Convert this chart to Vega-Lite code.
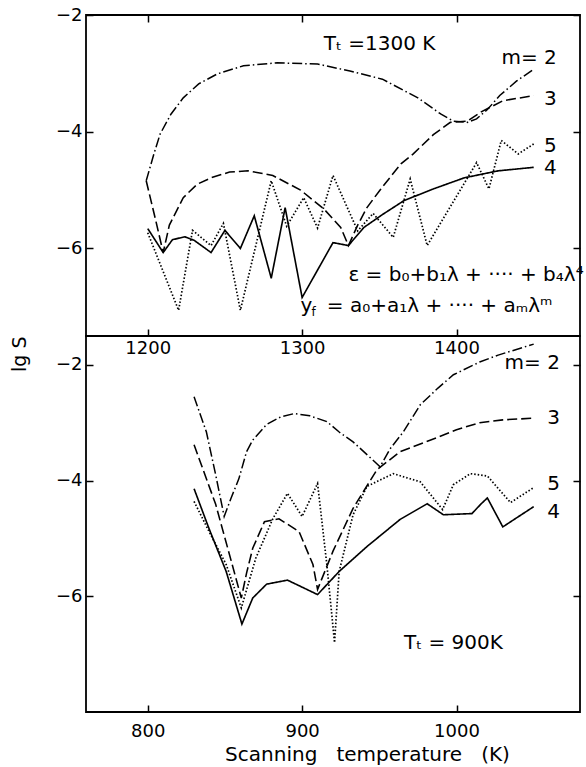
{
  "$schema": "https://vega.github.io/schema/vega-lite/v6.json",
  "padding": {"left": 9, "top": 5, "right": 4, "bottom": 4},
  "spacing": 0,
  "bounds": "flush",
  "config": {
    "font": "DejaVu Sans",
    "view": {"stroke": "black", "strokeWidth": 1.8},
    "axis": {"grid": false, "domain": false, "ticks": true, "tickSize": -7, "tickWidth": 1.5, "tickColor": "black",
             "labelFontSize": 18, "labelColor": "black", "labelFont": "DejaVu Sans", "labelPadding": 11,
             "titleFont": "DejaVu Sans", "titleFontWeight": "normal", "titleColor": "black", "titleFontSize": 20}
  },
  "datasets": {
    "top": [
      {"T": 1199, "lgS": -4.84, "m": "2"}, {"T": 1204, "lgS": -4.38, "m": "2"}, {"T": 1208, "lgS": -4.04, "m": "2"},
      {"T": 1215, "lgS": -3.7, "m": "2"}, {"T": 1223, "lgS": -3.42, "m": "2"}, {"T": 1233, "lgS": -3.18, "m": "2"},
      {"T": 1245, "lgS": -3.01, "m": "2"}, {"T": 1262, "lgS": -2.87, "m": "2"}, {"T": 1284, "lgS": -2.82, "m": "2"},
      {"T": 1310, "lgS": -2.84, "m": "2"}, {"T": 1331, "lgS": -2.96, "m": "2"}, {"T": 1352, "lgS": -3.1, "m": "2"},
      {"T": 1375, "lgS": -3.42, "m": "2"}, {"T": 1390, "lgS": -3.7, "m": "2"}, {"T": 1398, "lgS": -3.82, "m": "2"},
      {"T": 1407, "lgS": -3.84, "m": "2"}, {"T": 1413, "lgS": -3.78, "m": "2"}, {"T": 1420, "lgS": -3.62, "m": "2"},
      {"T": 1428, "lgS": -3.38, "m": "2"}, {"T": 1439, "lgS": -3.13, "m": "2"}, {"T": 1450, "lgS": -2.93, "m": "2"},

      {"T": 1199, "lgS": -4.84, "m": "3"}, {"T": 1205, "lgS": -5.5, "m": "3"}, {"T": 1210, "lgS": -6.07, "m": "3"},
      {"T": 1214, "lgS": -5.6, "m": "3"}, {"T": 1223, "lgS": -5.13, "m": "3"}, {"T": 1232, "lgS": -4.9, "m": "3"},
      {"T": 1241, "lgS": -4.79, "m": "3"}, {"T": 1253, "lgS": -4.69, "m": "3"}, {"T": 1265, "lgS": -4.67, "m": "3"},
      {"T": 1281, "lgS": -4.75, "m": "3"}, {"T": 1299, "lgS": -5.0, "m": "3"}, {"T": 1314, "lgS": -5.32, "m": "3"},
      {"T": 1325, "lgS": -5.64, "m": "3"}, {"T": 1330, "lgS": -5.95, "m": "3"}, {"T": 1336, "lgS": -5.6, "m": "3"},
      {"T": 1342, "lgS": -5.3, "m": "3"}, {"T": 1351, "lgS": -4.98, "m": "3"}, {"T": 1364, "lgS": -4.55, "m": "3"},
      {"T": 1372, "lgS": -4.38, "m": "3"}, {"T": 1385, "lgS": -4.05, "m": "3"}, {"T": 1396, "lgS": -3.84, "m": "3"},
      {"T": 1407, "lgS": -3.82, "m": "3"}, {"T": 1416, "lgS": -3.66, "m": "3"}, {"T": 1430, "lgS": -3.47, "m": "3"},
      {"T": 1450, "lgS": -3.38, "m": "3"},

      {"T": 1200, "lgS": -5.73, "m": "5"}, {"T": 1220, "lgS": -7.06, "m": "5"}, {"T": 1229, "lgS": -5.69, "m": "5"},
      {"T": 1241, "lgS": -5.95, "m": "5"}, {"T": 1249, "lgS": -5.57, "m": "5"}, {"T": 1260, "lgS": -7.06, "m": "5"},
      {"T": 1280, "lgS": -4.84, "m": "5"}, {"T": 1290, "lgS": -5.62, "m": "5"}, {"T": 1301, "lgS": -5.13, "m": "5"},
      {"T": 1310, "lgS": -5.65, "m": "5"}, {"T": 1320, "lgS": -4.75, "m": "5"}, {"T": 1336, "lgS": -5.7, "m": "5"},
      {"T": 1346, "lgS": -5.4, "m": "5"}, {"T": 1359, "lgS": -5.81, "m": "5"}, {"T": 1370, "lgS": -4.81, "m": "5"},
      {"T": 1381, "lgS": -5.95, "m": "5"}, {"T": 1413, "lgS": -4.53, "m": "5"}, {"T": 1421, "lgS": -4.98, "m": "5"},
      {"T": 1429, "lgS": -4.15, "m": "5"}, {"T": 1440, "lgS": -4.38, "m": "5"}, {"T": 1450, "lgS": -4.21, "m": "5"},

      {"T": 1200, "lgS": -5.66, "m": "4"}, {"T": 1210, "lgS": -6.07, "m": "4"}, {"T": 1216, "lgS": -5.85, "m": "4"},
      {"T": 1224, "lgS": -5.8, "m": "4"}, {"T": 1230, "lgS": -5.86, "m": "4"}, {"T": 1241, "lgS": -6.07, "m": "4"},
      {"T": 1250, "lgS": -5.69, "m": "4"}, {"T": 1260, "lgS": -6.0, "m": "4"}, {"T": 1269, "lgS": -5.44, "m": "4"},
      {"T": 1280, "lgS": -6.51, "m": "4"}, {"T": 1289, "lgS": -5.3, "m": "4"}, {"T": 1300, "lgS": -6.84, "m": "4"},
      {"T": 1320, "lgS": -5.9, "m": "4"}, {"T": 1330, "lgS": -5.95, "m": "4"}, {"T": 1340, "lgS": -5.64, "m": "4"},
      {"T": 1352, "lgS": -5.42, "m": "4"}, {"T": 1366, "lgS": -5.18, "m": "4"}, {"T": 1385, "lgS": -4.98, "m": "4"},
      {"T": 1405, "lgS": -4.79, "m": "4"}, {"T": 1427, "lgS": -4.67, "m": "4"}, {"T": 1450, "lgS": -4.61, "m": "4"}
    ],
    "bottom": [
      {"T": 830, "lgS": -2.55, "m": "2"}, {"T": 838, "lgS": -3.16, "m": "2"}, {"T": 844, "lgS": -3.9, "m": "2"},
      {"T": 849.5, "lgS": -4.62, "m": "2"}, {"T": 854, "lgS": -4.3, "m": "2"}, {"T": 859, "lgS": -3.97, "m": "2"},
      {"T": 864, "lgS": -3.5, "m": "2"}, {"T": 868, "lgS": -3.3, "m": "2"}, {"T": 877, "lgS": -3.03, "m": "2"},
      {"T": 886, "lgS": -2.9, "m": "2"}, {"T": 895, "lgS": -2.84, "m": "2"}, {"T": 905, "lgS": -2.88, "m": "2"},
      {"T": 916, "lgS": -2.98, "m": "2"}, {"T": 924, "lgS": -3.16, "m": "2"}, {"T": 933, "lgS": -3.33, "m": "2"},
      {"T": 942, "lgS": -3.55, "m": "2"}, {"T": 950.5, "lgS": -3.76, "m": "2"}, {"T": 957, "lgS": -3.45, "m": "2"},
      {"T": 965.5, "lgS": -3.16, "m": "2"}, {"T": 976.5, "lgS": -2.69, "m": "2"}, {"T": 988, "lgS": -2.4, "m": "2"},
      {"T": 998, "lgS": -2.17, "m": "2"}, {"T": 1015, "lgS": -1.95, "m": "2"}, {"T": 1027, "lgS": -1.83, "m": "2"},
      {"T": 1050, "lgS": -1.64, "m": "2"},

      {"T": 830, "lgS": -3.38, "m": "3"}, {"T": 844, "lgS": -4.41, "m": "3"}, {"T": 854.7, "lgS": -5.45, "m": "3"},
      {"T": 860.6, "lgS": -6.03, "m": "3"}, {"T": 864, "lgS": -5.6, "m": "3"}, {"T": 868, "lgS": -5.17, "m": "3"},
      {"T": 875.6, "lgS": -4.71, "m": "3"}, {"T": 885, "lgS": -4.66, "m": "3"}, {"T": 898, "lgS": -4.88, "m": "3"},
      {"T": 907, "lgS": -5.45, "m": "3"}, {"T": 910, "lgS": -5.88, "m": "3"}, {"T": 920, "lgS": -5.22, "m": "3"},
      {"T": 933, "lgS": -4.48, "m": "3"}, {"T": 948.5, "lgS": -3.81, "m": "3"}, {"T": 963.5, "lgS": -3.5, "m": "3"},
      {"T": 985, "lgS": -3.28, "m": "3"}, {"T": 1000, "lgS": -3.12, "m": "3"}, {"T": 1015, "lgS": -3.0, "m": "3"},
      {"T": 1030, "lgS": -2.95, "m": "3"}, {"T": 1050, "lgS": -2.92, "m": "3"},

      {"T": 830, "lgS": -4.36, "m": "5"}, {"T": 839.7, "lgS": -4.88, "m": "5"}, {"T": 850.8, "lgS": -5.45, "m": "5"},
      {"T": 860.6, "lgS": -6.2, "m": "5"}, {"T": 870, "lgS": -5.34, "m": "5"}, {"T": 881, "lgS": -4.66, "m": "5"},
      {"T": 890.5, "lgS": -4.22, "m": "5"}, {"T": 900, "lgS": -4.62, "m": "5"}, {"T": 910, "lgS": -4.05, "m": "5"},
      {"T": 916, "lgS": -5.45, "m": "5"}, {"T": 921, "lgS": -6.8, "m": "5"}, {"T": 924, "lgS": -5.57, "m": "5"},
      {"T": 933, "lgS": -4.59, "m": "5"}, {"T": 942, "lgS": -4.1, "m": "5"}, {"T": 959, "lgS": -3.88, "m": "5"},
      {"T": 976.5, "lgS": -4.02, "m": "5"}, {"T": 991, "lgS": -4.5, "m": "5"}, {"T": 998, "lgS": -4.07, "m": "5"},
      {"T": 1009, "lgS": -3.88, "m": "5"}, {"T": 1020, "lgS": -3.92, "m": "5"}, {"T": 1035, "lgS": -4.38, "m": "5"},
      {"T": 1050, "lgS": -4.12, "m": "5"},

      {"T": 830, "lgS": -4.14, "m": "4"}, {"T": 839.7, "lgS": -4.83, "m": "4"}, {"T": 850.8, "lgS": -5.57, "m": "4"},
      {"T": 861, "lgS": -6.48, "m": "4"}, {"T": 868, "lgS": -6.03, "m": "4"}, {"T": 877, "lgS": -5.79, "m": "4"},
      {"T": 890.5, "lgS": -5.72, "m": "4"}, {"T": 910, "lgS": -5.97, "m": "4"}, {"T": 924, "lgS": -5.57, "m": "4"},
      {"T": 942, "lgS": -5.14, "m": "4"}, {"T": 963.5, "lgS": -4.67, "m": "4"}, {"T": 981, "lgS": -4.4, "m": "4"},
      {"T": 991.5, "lgS": -4.59, "m": "4"}, {"T": 1010, "lgS": -4.57, "m": "4"}, {"T": 1016, "lgS": -4.4, "m": "4"},
      {"T": 1020, "lgS": -4.3, "m": "4"}, {"T": 1030, "lgS": -4.8, "m": "4"}, {"T": 1050, "lgS": -4.45, "m": "4"}
    ],
    "topLabels": [
      {"T": 1465, "lgS": -2.73, "label": "m= 2"}, {"T": 1465, "lgS": -3.44, "label": "3"},
      {"T": 1465, "lgS": -4.24, "label": "5"}, {"T": 1465, "lgS": -4.63, "label": "4"}
    ],
    "topTitle": [{"T": 1314, "lgS": -2.5, "label": "Tₜ =1300 K"}],
    "topFormula": [
      {"T": 1330, "lgS": -6.45, "label": "ε = b₀+b₁λ + ···· + b₄λ⁴"},
      {"T": 1299, "lgS": -6.98, "label": "y"},
      {"T": 1316, "lgS": -6.98, "label": "= a₀+a₁λ + ···· + aₘλᵐ"}
    ],
    "topSub": [{"T": 1299, "lgS": -6.98, "label": "f"}],
    "bottomLabels": [
      {"T": 1067, "lgS": -1.97, "label": "m= 2"}, {"T": 1067, "lgS": -2.92, "label": "3"},
      {"T": 1067, "lgS": -4.05, "label": "5"}, {"T": 1067, "lgS": -4.55, "label": "4"}
    ],
    "bottomTitle": [{"T": 966, "lgS": -6.8, "label": "Tₜ = 900K"}]
  },
  "vconcat": [
    {
      "width": 494, "height": 321,
      "layer": [
        {
          "data": {"name": "top"},
          "mark": {"type": "line", "color": "black", "strokeCap": "butt"},
          "encoding": {
            "x": {"field": "T", "type": "quantitative", "scale": {"domain": [1160, 1480], "nice": false, "zero": false},
                  "axis": {"values": [1200, 1300, 1400], "format": "d", "title": null, "labelPadding": 10}},
            "y": {"field": "lgS", "type": "quantitative", "scale": {"domain": [-7.5, -2], "nice": false, "zero": false},
                  "axis": {"values": [-2, -4, -6], "title": null}},
            "strokeDash": {"field": "m", "type": "nominal", "legend": null,
                           "scale": {"domain": ["2", "3", "4", "5"], "range": [[10, 3, 1.5, 3], [10, 4], [1, 0], [1.5, 2]]}},
            "strokeWidth": {"field": "m", "type": "nominal", "legend": null,
                            "scale": {"domain": ["2", "3", "4", "5"], "range": [1.5, 1.7, 2.2, 1.6]}}
          }
        },
        {
          "data": {"name": "top"},
          "mark": {"type": "point", "opacity": 0},
          "encoding": {
            "x": {"field": "T", "type": "quantitative", "axis": {"orient": "top", "values": [1200, 1300, 1400], "labels": false, "title": null}},
            "y": {"field": "lgS", "type": "quantitative", "axis": {"orient": "right", "values": [-2, -4, -6], "labels": false, "title": null}}
          }
        },
        {
          "data": {"name": "topLabels"},
          "mark": {"type": "text", "align": "right", "baseline": "middle", "fontSize": 20, "color": "black"},
          "encoding": {
            "x": {"field": "T", "type": "quantitative", "axis": null},
            "y": {"field": "lgS", "type": "quantitative", "axis": null},
            "text": {"field": "label"}
          }
        },
        {
          "data": {"name": "topTitle"},
          "mark": {"type": "text", "align": "left", "baseline": "middle", "fontSize": 20, "color": "black"},
          "encoding": {
            "x": {"field": "T", "type": "quantitative", "axis": null},
            "y": {"field": "lgS", "type": "quantitative", "axis": null},
            "text": {"field": "label"}
          }
        },
        {
          "data": {"name": "topFormula"},
          "mark": {"type": "text", "align": "left", "baseline": "middle", "fontSize": 20, "color": "black"},
          "encoding": {
            "x": {"field": "T", "type": "quantitative", "axis": null},
            "y": {"field": "lgS", "type": "quantitative", "axis": null},
            "text": {"field": "label"}
          }
        },
        {
          "data": {"name": "topSub"},
          "mark": {"type": "text", "align": "left", "baseline": "middle", "fontSize": 12, "dx": 11, "dy": 6, "color": "black"},
          "encoding": {
            "x": {"field": "T", "type": "quantitative", "axis": null},
            "y": {"field": "lgS", "type": "quantitative", "axis": null},
            "text": {"field": "label"}
          }
        }
      ],
      "resolve": {"axis": {"x": "independent", "y": "independent"}}
    },
    {
      "width": 494, "height": 376,
      "layer": [
        {
          "data": {"name": "bottom"},
          "mark": {"type": "line", "color": "black", "strokeCap": "butt"},
          "encoding": {
            "x": {"field": "T", "type": "quantitative", "scale": {"domain": [760, 1080], "nice": false, "zero": false},
                  "axis": {"values": [800, 900, 1000], "format": "d", "title": "Scanning\u00a0\u00a0\u00a0temperature\u00a0\u00a0\u00a0(K)",
                           "titleX": 281, "titleAlign": "center", "titlePadding": 4, "labelPadding": 17}},
            "y": {"field": "lgS", "type": "quantitative", "scale": {"domain": [-8, -1.5], "nice": false, "zero": false},
                  "axis": {"values": [-2, -4, -6], "title": "lg S", "titleAnchor": "end", "titlePadding": 26, "titleFontSize": 19}},
            "strokeDash": {"field": "m", "type": "nominal", "legend": null,
                           "scale": {"domain": ["2", "3", "4", "5"], "range": [[10, 3, 1.5, 3], [10, 4], [1, 0], [1.5, 2]]}},
            "strokeWidth": {"field": "m", "type": "nominal", "legend": null,
                            "scale": {"domain": ["2", "3", "4", "5"], "range": [1.5, 1.7, 2.2, 1.6]}}
          }
        },
        {
          "data": {"name": "bottom"},
          "mark": {"type": "point", "opacity": 0},
          "encoding": {
            "x": {"field": "T", "type": "quantitative"},
            "y": {"field": "lgS", "type": "quantitative", "axis": {"orient": "right", "values": [-2, -4, -6], "labels": false, "title": null}}
          }
        },
        {
          "data": {"name": "bottomLabels"},
          "mark": {"type": "text", "align": "right", "baseline": "middle", "fontSize": 20, "color": "black"},
          "encoding": {
            "x": {"field": "T", "type": "quantitative"},
            "y": {"field": "lgS", "type": "quantitative", "axis": null},
            "text": {"field": "label"}
          }
        },
        {
          "data": {"name": "bottomTitle"},
          "mark": {"type": "text", "align": "left", "baseline": "middle", "fontSize": 20, "color": "black"},
          "encoding": {
            "x": {"field": "T", "type": "quantitative"},
            "y": {"field": "lgS", "type": "quantitative", "axis": null},
            "text": {"field": "label"}
          }
        }
      ],
      "resolve": {"axis": {"y": "independent"}}
    }
  ]
}
